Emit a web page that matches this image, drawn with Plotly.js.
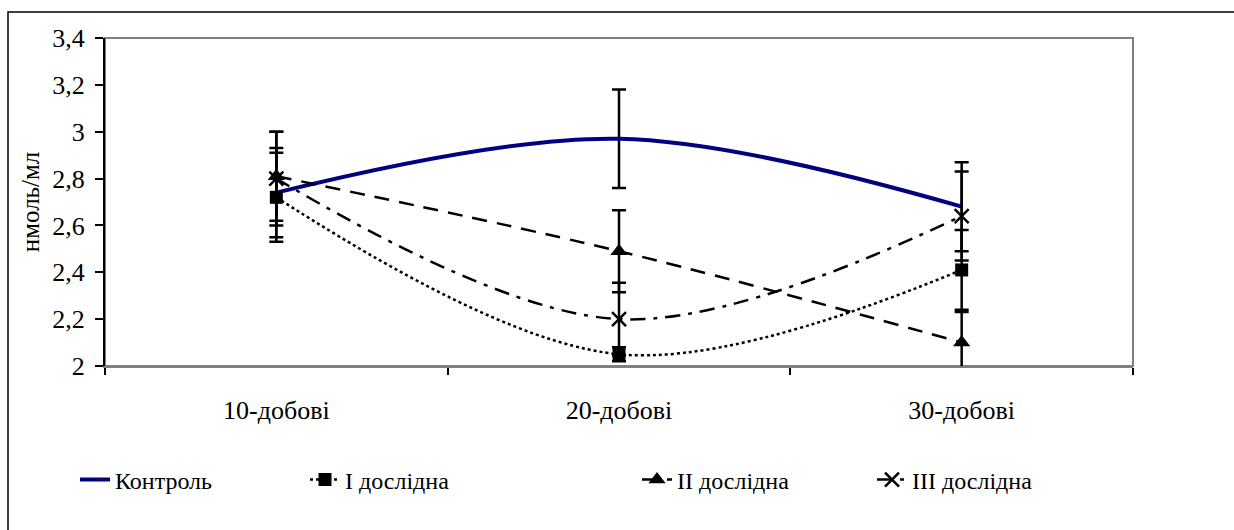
<!DOCTYPE html>
<html>
<head>
<meta charset="utf-8">
<script src="https://cdn.plot.ly/plotly-3.0.1.min.js"></script>
<style>
.main-svg text { font-family: "Liberation Serif", "Times New Roman", serif !important; }
#preload { position: absolute; left: -9999px; top: 0; font-family: "Liberation Serif"; font-size: 26px; }
</style>
</head>
<body style="margin:0">
<div id="preload">10-добові 3,4 нмоль/мл Контроль I дослідна II III</div>
<div id="chart" style="width:1234px;height:530px"></div>
<script>
const categories = ['10-добові', '20-добові', '30-добові'];
const seriesNames = ['Контроль', 'I дослідна', 'II дослідна', 'III дослідна'];
const controlVals = [2.74, 2.97, 2.68];
const controlErr = [0.19, 0.21, 0.19];
const exp1Vals = [2.72, 2.05, 2.41];
const exp1Err = [0.19, 0.03, 0.17];
const exp2Vals = [2.81, 2.49, 2.10];
const exp2Err = [0.19, 0.175, 0.13];
const exp3Vals = [2.80, 2.20, 2.64];
const exp3Err = [0.20, 0.155, 0.19];

const FONT = 'Liberation Serif';

function err(arr) {
  return {type: 'data', array: arr, visible: true, color: '#000', thickness: 2.5, width: 7};
}

const traces = [
  {x: categories, y: controlVals, name: seriesNames[0], type: 'scatter', mode: 'lines',
   line: {color: '#000080', width: 4, shape: 'spline'}, error_y: err(controlErr), legend: 'legend'},
  {x: categories, y: exp1Vals, name: seriesNames[1], type: 'scatter', mode: 'lines+markers',
   line: {color: '#000', width: 2.5, dash: 'dot', shape: 'spline'},
   marker: {symbol: 'square', size: 13, color: '#000'}, error_y: err(exp1Err), legend: 'legend2'},
  {x: categories, y: exp2Vals, name: seriesNames[2], type: 'scatter', mode: 'lines+markers',
   line: {color: '#000', width: 2.5, dash: '15px,10px', shape: 'spline'},
   marker: {symbol: 'triangle-up', size: 15, color: '#000'}, error_y: err(exp2Err), legend: 'legend3'},
  {x: categories, y: exp3Vals, name: seriesNames[3], type: 'scatter', mode: 'lines+markers',
   line: {color: '#000', width: 2.5, dash: '15px,8px,4px,8px', shape: 'spline'},
   marker: {symbol: 'x-thin-open', size: 14, color: '#000', line: {width: 2.5, color: '#000'}},
   error_y: err(exp3Err), legend: 'legend4'}
];

// plot area in px: x 105..1133, y 38..366
const PL = 105, PR = 1133, PT = 38, PB = 366;
const PW = PR - PL, PH = PB - PT;
function px2x(p) { return (p - PL) / PW; }
function px2y(p) { return (PB - p) / PH; }

const legBase = {orientation: 'h', xanchor: 'left', yanchor: 'middle', y: px2y(480),
  font: {family: FONT, size: 24, color: '#000'}, bgcolor: 'rgba(0,0,0,0)', borderwidth: 0};

const layout = {
  width: 1234, height: 530,
  margin: {l: PL, r: 1234 - PR, t: PT, b: 530 - PB},
  paper_bgcolor: '#fff', plot_bgcolor: '#fff',
  separators: ', ',
  font: {family: FONT, color: '#000'},
  xaxis: {
    type: 'category', range: [-0.5, 2.5], tickson: 'boundaries',
    ticks: 'outside', ticklen: 7, tickwidth: 1.5, tickcolor: '#000',
    showline: true, linecolor: '#808080', linewidth: 2,
    showgrid: false, zeroline: false, fixedrange: true,
    tickfont: {family: FONT, size: 26, color: '#000'}, ticklabelstandoff: 20
  },
  yaxis: {
    range: [2, 3.4], dtick: 0.2, tick0: 2,
    ticks: 'outside', ticklen: 8, tickwidth: 1.5, tickcolor: '#000',
    showline: true, linecolor: '#000', linewidth: 2,
    showgrid: false, zeroline: false, fixedrange: true,
    tickfont: {family: FONT, size: 26, color: '#000'}, ticklabelstandoff: 5,
    title: {text: 'нмоль/мл', font: {family: FONT, size: 25, color: '#000'}, standoff: 6}
  },
  showlegend: true,
  legend: Object.assign({}, legBase, {x: px2x(75)}),
  legend2: Object.assign({}, legBase, {x: px2x(305)}),
  legend3: Object.assign({}, legBase, {x: px2x(637)}),
  legend4: Object.assign({}, legBase, {x: px2x(872)}),
  shapes: [
    {type: 'rect', xref: 'paper', yref: 'paper', x0: 0, x1: 1, y0: 0, y1: 1,
     line: {color: '#808080', width: 2}, layer: 'below'},
    {type: 'rect', xref: 'paper', yref: 'paper', x0: px2x(8), x1: px2x(1245), y0: px2y(545), y1: px2y(12),
     line: {color: '#000', width: 1.5}, layer: 'below'}
  ]
};

function draw() {
  Plotly.newPlot('chart', traces, layout, {displayModeBar: false});
}
let fontWait = Promise.resolve();
if (document.fonts && document.fonts.load) {
  fontWait = Promise.race([
    document.fonts.load('26px "Liberation Serif"', 'нмоль 3,4 Контроль'),
    new Promise(function (r) { setTimeout(r, 400); })
  ]).catch(function () {});
}
fontWait.then(draw);
</script>
</body>
</html>
